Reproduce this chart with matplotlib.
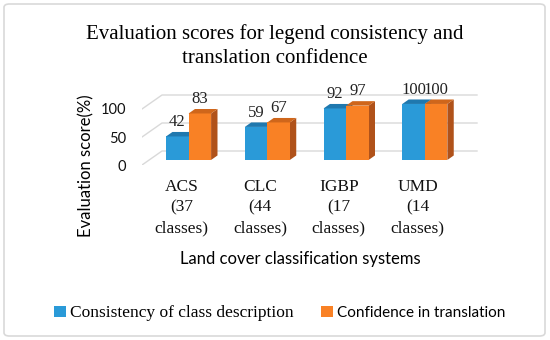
import numpy as np
import matplotlib.pyplot as plt
from matplotlib.patches import Polygon, Patch, FancyBboxPatch

systems = ['ACS', 'CLC', 'IGBP', 'UMD']
class_counts = [37, 44, 17, 14]
consistency = [42, 59, 92, 100]
confidence = [83, 67, 97, 100]
y_ticks = [0, 50, 100]
series_names = ['Consistency of class description', 'Confidence in translation']

SERIF = 'Liberation Serif'
SANS = 'Lato'

# front, top, side colours per series
colors = [('#2A9AD8', '#1F78AE', '#1B6A98'),
          ('#F98125', '#CF661B', '#B0521A')]

W, H = 550, 340
fig = plt.figure(figsize=(5.5, 3.4), dpi=100)
fig.patch.set_facecolor('white')
fig.patches.append(FancyBboxPatch((4 / W, 4 / H), 541 / W, 332 / H,
                                  boxstyle='round,pad=0,rounding_size=0.01',
                                  transform=fig.transFigure, fill=False,
                                  edgecolor='#D9D9D9', lw=1.2))

# axes = front plane of the floor (x in categories, y in score points)
px_x, px_y = 78.75, 0.56
xlim, ylim = (-0.5, 3.8), (0, 130)
ax = fig.add_axes([142 / W, 1 - 165 / H,
                   (xlim[1] - xlim[0]) * px_x / W,
                   (ylim[1] - ylim[0]) * px_y / H])
ax.set_xlim(*xlim)
ax.set_ylim(*ylim)
ax.patch.set_alpha(0)
for s in ax.spines.values():
    s.set_visible(False)

# pseudo-3d depth
dx, dy = 20 / px_x, 14 / px_y
f1, f2 = 0.36, 0.68
bdx, bdy = (f2 - f1) * dx, (f2 - f1) * dy

for v in y_ticks:
    ax.plot([-0.5, -0.5 + dx, 3.5 + dx], [v, v + dy, v + dy],
            color='#D9D9D9', lw=1, zorder=1)

width = 0.286
x = np.arange(len(systems))
for j, vals in enumerate([consistency, confidence]):
    front, top, side = colors[j]
    xs = x + (j - 0.5) * width + f1 * dx
    bars = ax.bar(xs, vals, width, bottom=f1 * dy, color=front, zorder=0)
    for i, (b, v) in enumerate(zip(bars, vals)):
        z = 2 + i * 10 + j * 3
        b.set_zorder(z + 1)
        x0, x1 = b.get_x(), b.get_x() + width
        y0, y1 = f1 * dy, f1 * dy + v
        ax.add_patch(Polygon([(x1, y0), (x1 + bdx, y0 + bdy), (x1 + bdx, y1 + bdy), (x1, y1)],
                             closed=True, facecolor=side, edgecolor='none', zorder=z))
        ax.add_patch(Polygon([(x0, y1), (x1, y1), (x1 + bdx, y1 + bdy), (x0 + bdx, y1 + bdy)],
                             closed=True, facecolor=top, edgecolor='none', zorder=z + 2))
        ax.annotate(str(v), (b.get_x() + width / 2, y1 + bdy / 2), xytext=(0, 3),
                    textcoords='offset points', ha='center', va='bottom',
                    fontsize=12, family=SERIF, color='#222222', zorder=100)

ax.set_yticks(y_ticks)
ax.set_yticklabels([str(t) for t in y_ticks], fontsize=10.5, family=SANS)
ax.tick_params(axis='y', length=0, pad=11.5, colors='#111111')
ax.set_xticks([])

for i, (name, n) in enumerate(zip(systems, class_counts)):
    ax.annotate('%s\n(%d\nclasses)' % (name, n), (i, 0), xytext=(0, -10),
                textcoords='offset points', ha='center', va='top',
                fontsize=12.5, family=SERIF, linespacing=1.4, color='#111111')

fig.text(275 / W, 1 - 46 / H, 'Evaluation scores for legend consistency and\ntranslation confidence',
         ha='center', va='center', fontsize=15, family=SERIF, linespacing=1.35)
fig.text(86 / W, 1 - 166 / H, 'Evaluation score(%)', rotation=90,
         ha='center', va='center', fontsize=12, family=SANS)
fig.text(300 / W, 1 - 259 / H, 'Land cover classification systems',
         ha='center', va='center', fontsize=12, family=SANS)

handles = [Patch(facecolor=colors[k][0]) for k in range(2)]
leg = fig.legend(handles, series_names, loc='center', ncol=2,
                 bbox_to_anchor=(280 / W, 1 - 313 / H), frameon=False,
                 fontsize=11, handlelength=0.75, handleheight=0.75,
                 handletextpad=0.3, columnspacing=1.8)
leg.get_texts()[0].set_family(SERIF)
leg.get_texts()[0].set_fontsize(12.5)
leg.get_texts()[1].set_family(SANS)

fig.savefig('out.png', dpi=100)
